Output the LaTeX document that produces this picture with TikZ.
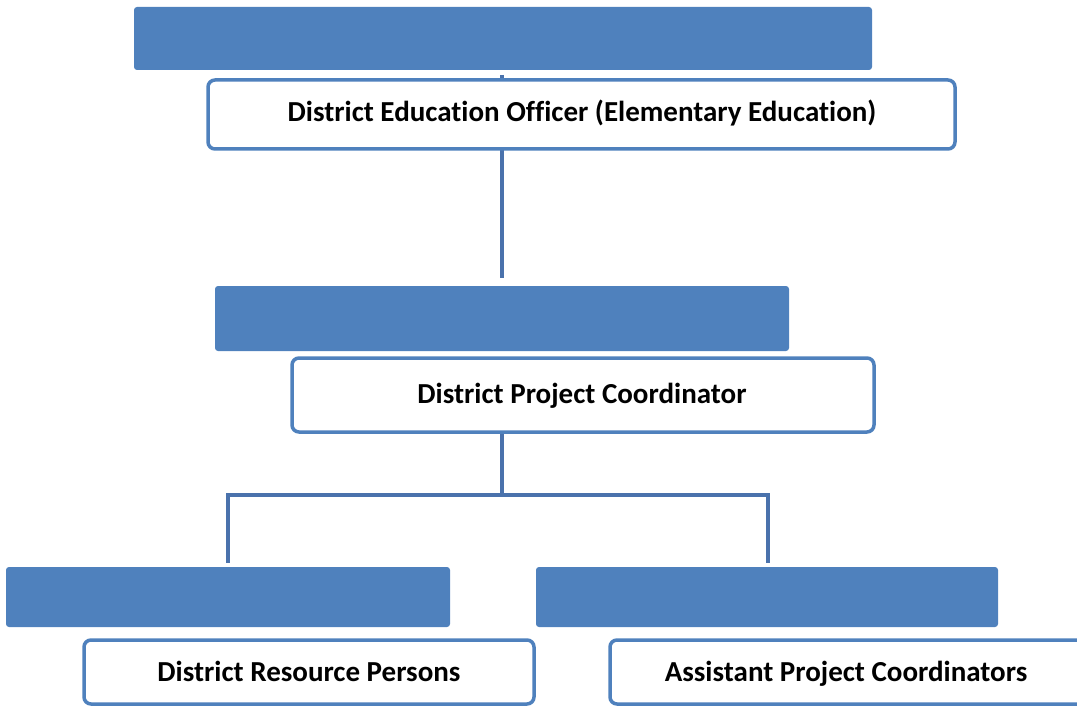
\documentclass[tikz,border=0pt]{standalone}
\usepackage{fontspec}
\setmainfont{Carlito}[RawFeature=-liga]
\definecolor{barblue}{HTML}{4F81BD}
\definecolor{lineblue}{HTML}{4A72AC}
\begin{document}
\begin{tikzpicture}[x=1pt,y=-1pt,
  bar/.style={fill=barblue, draw=none, rounded corners=3pt},
  box/.style={draw=barblue, line width=3.5pt, fill=white, rounded corners=7pt},
  lbl/.style={font=\bfseries\fontsize{29}{34}\selectfont, text=black, anchor=base},
  conn/.style={draw=lineblue, line width=4pt}]
\useasboundingbox (0,0) rectangle (1077,706);
% connectors (behind)
\coordinate (t1) at (502,75);
\coordinate (t2) at (502,278);
\coordinate (m1) at (502,432);
\coordinate (m2) at (502,495);
\coordinate (hl) at (228,495);
\coordinate (hr) at (768,495);
\coordinate (dl) at (228,561);
\coordinate (dr) at (768,561);
\draw[conn] (t1) -- (t2);
\draw[conn] (m1) -- (m2);
\draw[conn, line cap=rect] (dl) -- (hl) -- (hr) -- (dr);
% bars
\path[bar] (134,7) rectangle (872,70);
\path[bar] (215,286) rectangle (789,351);
\path[bar] (6,567) rectangle (450,627);
\path[bar] (536,567) rectangle (998,627);
% boxes
\draw[box] (208,80) rectangle (955,149);
\draw[box] (292,358) rectangle (874,432);
\draw[box] (84,640) rectangle (534,704);
\draw[box] (610,640) rectangle (1090,704);
% labels
\node[lbl] (deo) at (582,122) {District Education Officer (Elementary Education)};
\node[lbl] (dpc) at (582,403) {District Project Coordinator};
\node[lbl] (drp) at (309,681) {District Resource Persons};
\node[lbl] (apc) at (846,681) {Assistant Project Coordinators};
\end{tikzpicture}
\end{document}
